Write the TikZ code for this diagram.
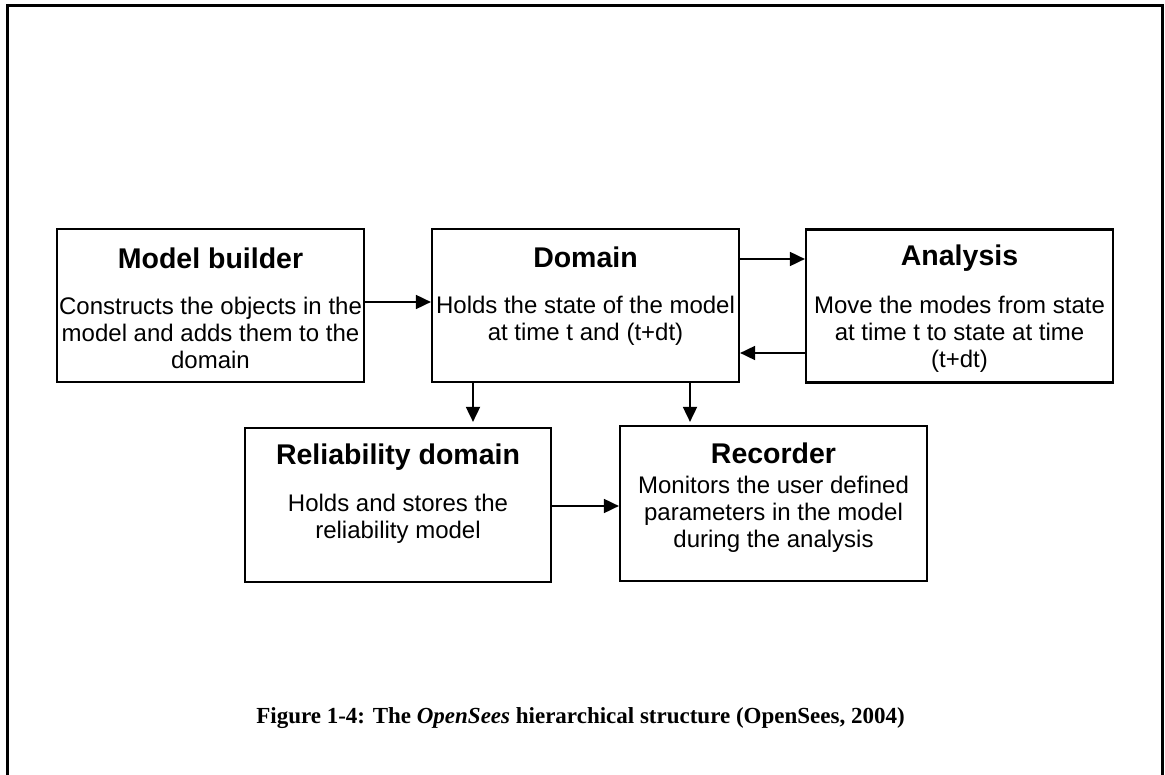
\documentclass[tikz,border=0pt]{standalone}
\usepackage{fontspec}
\setmainfont{Liberation Sans}
\newfontfamily\capfont{Liberation Serif}
\usetikzlibrary{arrows.meta,calc}

\tikzset{
  block/.style={draw, line width=2.2pt, minimum width=307pt, minimum height=153pt,
                inner sep=0pt, fill=white},
  blocktitle/.style={font=\bfseries\fontsize{28.5}{30}\selectfont, inner sep=0pt, anchor=center},
  blockbody/.style={font=\fontsize{24}{27}\selectfont, align=center, inner sep=0pt, anchor=north},
  flow/.style={line width=1.8pt, -{Triangle[length=15pt,width=14pt]}},
}

\begin{document}
\begin{tikzpicture}[x=1pt,y=-1pt]
  \useasboundingbox (0,0) rectangle (1165,775);
  \fill[white] (0,0) rectangle (1165,775);

  % open frame around the figure
  \draw[line width=3pt] (7,780) -- (7,6) -- (1162,6) -- (1162,780);

  % blocks
  \node[block] (mb)  at (210.5,305.5) {};
  \node[block] (dom) at (585.5,305.5) {};
  \node[block] (an)  at (959.5,306)   {};
  \node[block, minimum width=306pt, minimum height=154pt] (rel) at (398,505) {};
  \node[block, minimum height=155pt] (rec) at (773.5,503.5) {};

  % titles
  \node[blocktitle] (mbT)  at (210.5,258) {Model builder};
  \node[blocktitle] (domT) at (585.5,257) {Domain};
  \node[blocktitle] (anT)  at (959.5,258) {Analysis};
  \node[blocktitle] (relT) at (398,457)   {Reliability domain};
  \node[blocktitle] (recT) at (773.5,453) {Recorder};

  % descriptions
  \node[blockbody] (mbB)  at (210.5,297) {Constructs the objects in the\\model and adds them to the\\domain};
  \node[blockbody] (domB) at (585.5,296) {Holds the state of the model\\at time t and (t+dt)};
  \node[blockbody] (anB)  at (959.5,296) {Move the modes from state\\at time t to state at time\\(t+dt)};
  \node[blockbody] (relB) at (398,494)   {Holds and stores the\\reliability model};
  \node[blockbody] (recB) at (773.5,476) {Monitors the user defined\\parameters in the model\\during the analysis};

  % connectors
  \draw[flow] ([yshift=3.5pt]mb.east) -- ([yshift=3.5pt]mb.east -| dom.west);
  \draw[flow] ([yshift=46.5pt]dom.east) -- ([yshift=46.5pt]dom.east -| an.west);
  \draw[flow] ([yshift=-47pt]an.west) -- ([yshift=-47pt]an.west -| dom.east);
  \coordinate (d1) at (473,382);
  \coordinate (d2) at (690,382);
  \draw[flow, shorten >=5pt] (d1) -- (d1 |- rel.north);
  \draw[flow, shorten >=3pt] (d2) -- (d2 |- rec.north);
  \draw[flow] ([yshift=-1pt]rel.east) -- ([yshift=-1pt]rel.east -| rec.west);

  % caption
  \node[font=\capfont\bfseries\fontsize{23}{25}\selectfont, inner sep=0pt] (cap) at (580.5,718)
    {Figure 1-4: The \textit{OpenSees} hierarchical structure (OpenSees, 2004)};
\end{tikzpicture}
\end{document}
